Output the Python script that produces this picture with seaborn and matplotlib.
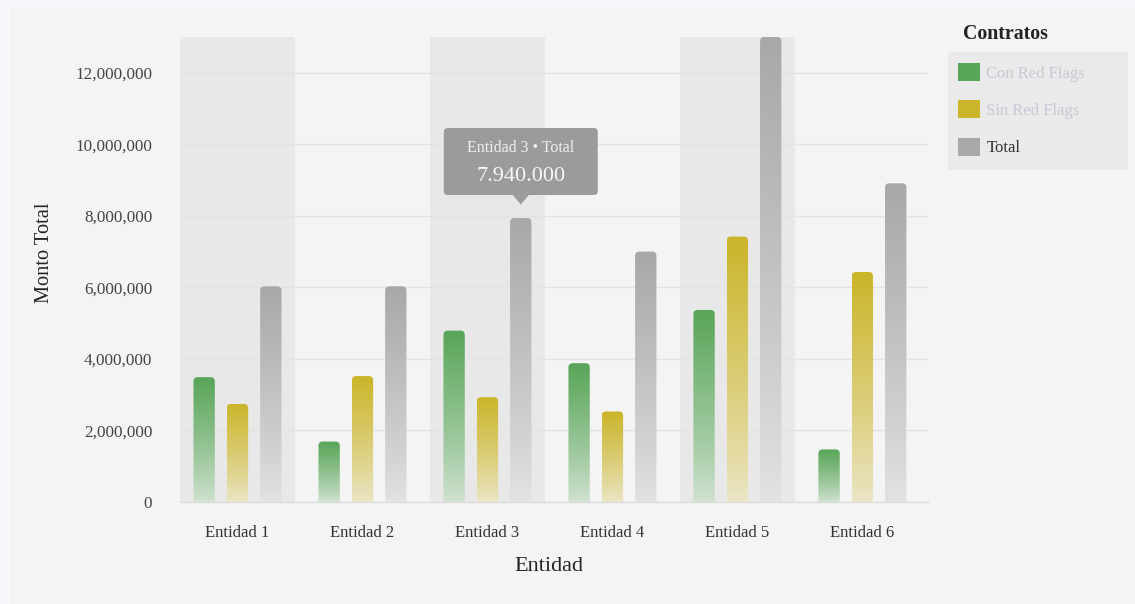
import numpy as np
import pandas as pd
import matplotlib
matplotlib.use('Agg')
import matplotlib.pyplot as plt
import matplotlib.transforms as mtransforms
from matplotlib.patches import FancyBboxPatch, Polygon, Rectangle, Patch
from matplotlib.ticker import FuncFormatter
from matplotlib.colors import to_rgb
import seaborn as sns

# --- data ---
ENTIDADES = ['Entidad 1', 'Entidad 2', 'Entidad 3', 'Entidad 4', 'Entidad 5', 'Entidad 6']
SERIES = ['Con Red Flags', 'Sin Red Flags', 'Total']
CON_RED_FLAGS = [3490000, 1690000, 4790000, 3880000, 5370000, 1470000]
SIN_RED_FLAGS = [2740000, 3520000, 2930000, 2530000, 7420000, 6430000]
TOTAL = [6030000, 6030000, 7940000, 7000000, 13000000, 8910000]
Y_TICKS = [0, 2000000, 4000000, 6000000, 8000000, 10000000, 12000000]
COLORES = ['#58a558', '#cbb52a', '#a8a8a8']
TOOLTIP_IDX = 2   # Entidad 3 / Total

BG = '#f4f4f4'
PAGE = '#f7f8fc'

df = pd.DataFrame({
    'Entidad': ENTIDADES * 3,
    'Serie': np.repeat(SERIES, len(ENTIDADES)),
    'Monto': CON_RED_FLAGS + SIN_RED_FLAGS + TOTAL,
})

sns.set_theme(style='white')
plt.rcParams['font.family'] = ['Liberation Serif', 'DejaVu Serif']

fig = plt.figure(figsize=(11.35, 6.04), dpi=100, facecolor=PAGE)
# chart panel (thin page margin on the left/top)
fig.add_artist(Rectangle((10/1135, 0), 1, 1-8/604, transform=fig.transFigure,
                         fc=BG, ec='none', zorder=-1))
ax = fig.add_axes([180/1135, 1-502/604, 748/1135, 465/604])
ax.set_facecolor(BG)

sns.barplot(data=df, x='Entidad', y='Monto', hue='Serie', hue_order=SERIES,
            palette=COLORES, saturation=1, width=0.8, gap=0.36, errorbar=None,
            legend=False, ax=ax, zorder=2)
bars = list(ax.patches)

# replace the flat bars by rounded gradient bars
bg_rgb = np.array(to_rgb(BG))
t = np.linspace(0, 1, 200)[:, None]
for bar in bars:
    x0, w, h = bar.get_x(), bar.get_width(), bar.get_height()
    if h <= 0:
        continue
    top = np.array(bar.get_facecolor()[:3])
    bottom = top * 0.22 + bg_rgb * 0.78
    grad = bottom + (top - bottom) * t ** 0.85
    img = np.repeat(grad[:, None, :], 2, axis=1)
    bar.set_visible(False)
    clip = FancyBboxPatch((x0, -4e5), w, h + 4e5,
                          boxstyle='round,pad=0,rounding_size=0.034',
                          mutation_aspect=3.5e6, transform=ax.transData,
                          fc='none', ec='none')
    im = ax.imshow(img, extent=[x0, x0 + w, 0, h], origin='lower',
                   aspect='auto', zorder=3, interpolation='bilinear')
    im.set_clip_path(clip)

# alternate shaded bands
for i in range(0, len(ENTIDADES), 2):
    ax.axvspan(i - 0.46, i + 0.46, color='#e8e8e8', zorder=0, lw=0)

ax.set_xlim(-0.46, len(ENTIDADES) - 1 + 0.525)
ax.set_ylim(0, 13000000)
ax.set_yticks(Y_TICKS)
ax.yaxis.set_major_formatter(FuncFormatter(lambda v, p: f'{v:,.0f}'))
ax.yaxis.grid(True, color='#e3e3e3', lw=1)
ax.xaxis.grid(False)
ax.set_axisbelow(True)
for s in ['top', 'right', 'left']:
    ax.spines[s].set_visible(False)
ax.spines['bottom'].set_color('#dcdcdc')
ax.spines['bottom'].set_linewidth(1)
ax.tick_params(axis='y', length=0, pad=20, labelsize=12.3, labelcolor='#444444')
ax.tick_params(axis='x', length=0, pad=16.5, labelsize=12, labelcolor='#333333')

ax.set_xlabel('Entidad', fontsize=16, color='#222222')
ax.set_ylabel('Monto Total', fontsize=14.7, color='#222222')
ax.xaxis.set_label_coords(0.493, -0.118)
ax.yaxis.set_label_coords(-0.168, 0.535)

# tooltip over Entidad 3 / Total
tip_bar = bars[len(ENTIDADES) * 2 + TOOLTIP_IDX]
xc = tip_bar.get_x() + tip_bar.get_width() / 2
tr = fig.dpi_scale_trans + mtransforms.ScaledTranslation(xc, TOTAL[TOOLTIP_IDX], ax.transData)
box = FancyBboxPatch((-0.77, 0.23), 1.54, 0.67, boxstyle='round,pad=0,rounding_size=0.04',
                     transform=tr, fc='#9b9b9b', ec='none', zorder=8, clip_on=False)
ax.add_patch(box)
ax.add_patch(Polygon([(-0.085, 0.235), (0.085, 0.235), (0, 0.135)], closed=True,
                     transform=tr, fc='#9b9b9b', ec='none', zorder=8, clip_on=False))
ax.text(0, 0.70, f'{ENTIDADES[TOOLTIP_IDX]} \u2022 {SERIES[2]}', transform=tr,
        ha='center', va='center', fontsize=11.5, color='#f0f0f0', zorder=9)
ax.text(0, 0.41, f'{TOTAL[TOOLTIP_IDX]:,}'.replace(',', '.'), transform=tr,
        ha='center', va='center', fontsize=16, color='#f7f7f7', zorder=9)

# legend
fig.add_artist(Rectangle((948/1135, 1-170/604), 180/1135, 118/604,
                         transform=fig.transFigure, fc='#eaeaea', ec='none', zorder=0))
fig.text(963/1135, 1-34/604, 'Contratos', fontsize=14.3, fontweight='bold',
         ha='left', va='center', color='#222222')
handles = [Patch(facecolor=c, edgecolor='none') for c in COLORES]
leg = fig.legend(handles, SERIES, loc='upper left', bbox_to_anchor=(958/1135, 1-63/604),
                 frameon=False, fontsize=12, handlelength=1.3, handleheight=1.3,
                 labelspacing=1.12, handletextpad=0.4, borderpad=0, borderaxespad=0)
for txt, col in zip(leg.get_texts(), ['#c6cad6', '#c6cad6', '#333333']):
    txt.set_color(col)

fig.savefig('out.png', dpi=100, facecolor=PAGE)
